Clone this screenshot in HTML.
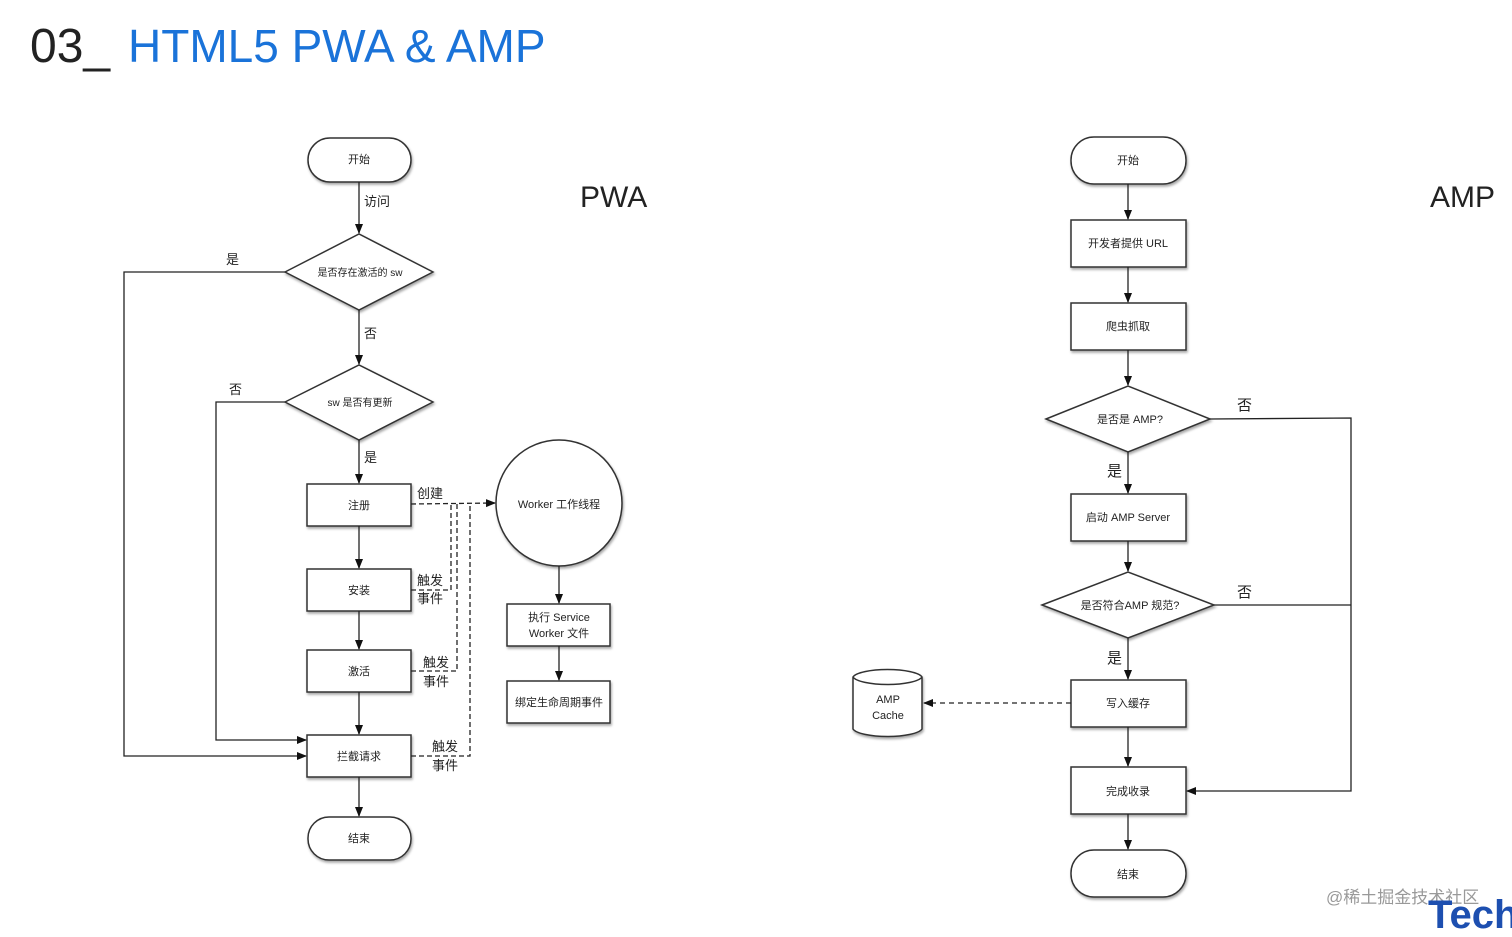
<!DOCTYPE html>
<html><head><meta charset="utf-8"><style>
body{margin:0;background:#fff;width:1512px;height:932px;overflow:hidden}
svg text{font-family:"Liberation Sans","Noto Sans CJK SC",sans-serif}
</style></head><body>
<svg width="1512" height="932" xmlns="http://www.w3.org/2000/svg">
<defs>
<marker id="a" markerWidth="10" markerHeight="10" refX="9" refY="5" orient="auto" markerUnits="userSpaceOnUse"><path d="M0,1 L10,5 L0,9z" fill="#111"/></marker>
<filter id="s"><feDropShadow dx="1" dy="2" stdDeviation="1.2" flood-opacity="0.35"/></filter>
</defs>
<text x="30" y="62" font-size="48" fill="#222">03_</text>
<text x="128" y="62" font-size="46" fill="#1a73d9">HTML5 PWA &amp; AMP</text>
<text x="580" y="207" font-size="30" fill="#222">PWA</text>
<text x="1430" y="207" font-size="30" fill="#222">AMP</text>
<g stroke="#333" stroke-width="1.5" fill="#fff" filter="url(#s)">
<rect x="308" y="138" width="103" height="44" rx="22"/>
<polygon points="285,272 359,234 433,272 359,310"/>
<polygon points="285,402 359,365 433,402 359,440"/>
<rect x="307" y="484" width="104" height="42"/>
<rect x="307" y="569" width="104" height="42"/>
<rect x="307" y="650" width="104" height="42"/>
<rect x="307" y="735" width="104" height="42"/>
<rect x="308" y="817" width="103" height="43" rx="21"/>
<circle cx="559" cy="503" r="63"/>
<rect x="507" y="604" width="103" height="42"/>
<rect x="507" y="681" width="103" height="42"/>
<rect x="1071" y="137" width="115" height="47" rx="23"/>
<rect x="1071" y="220" width="115" height="47"/>
<rect x="1071" y="303" width="115" height="47"/>
<polygon points="1046,419 1128,386 1210,419 1128,452"/>
<rect x="1071" y="494" width="115" height="47"/>
<polygon points="1042,605 1128,572 1214,605 1128,638"/>
<rect x="1071" y="680" width="115" height="47"/>
<rect x="1071" y="767" width="115" height="47"/>
<rect x="1071" y="850" width="115" height="47" rx="23"/>
<path d="M853,677 v52 a35,9 0 0 0 69,0 v-52 a35,9 0 0 0 -69,0 a35,9 0 0 0 69,0"/>
</g>
<g stroke="#222" stroke-width="1.3" fill="none" marker-end="url(#a)">
<line x1="359" y1="182" x2="359" y2="233"/>
<line x1="359" y1="310" x2="359" y2="364"/>
<line x1="359" y1="440" x2="359" y2="483"/>
<line x1="359" y1="526" x2="359" y2="568"/>
<line x1="359" y1="611" x2="359" y2="649"/>
<line x1="359" y1="692" x2="359" y2="734"/>
<line x1="359" y1="777" x2="359" y2="816"/>
<polyline points="285,272 124,272 124,756 306,756"/>
<polyline points="285,402 216,402 216,740 306,740"/>
<line x1="559" y1="566" x2="559" y2="603"/>
<line x1="559" y1="646" x2="559" y2="680"/>
<line x1="1128" y1="184" x2="1128" y2="219"/>
<line x1="1128" y1="267" x2="1128" y2="302"/>
<line x1="1128" y1="350" x2="1128" y2="385"/>
<line x1="1128" y1="452" x2="1128" y2="493"/>
<line x1="1128" y1="541" x2="1128" y2="571"/>
<line x1="1128" y1="638" x2="1128" y2="679"/>
<line x1="1128" y1="727" x2="1128" y2="766"/>
<line x1="1128" y1="814" x2="1128" y2="849"/>
<polyline points="1210,419 1351,418 1351,791 1187,791"/>
<polyline points="1214,605 1351,605" marker-end="none"/>
<line x1="1071" y1="703" x2="924" y2="703" stroke-dasharray="5,4"/>
<line x1="411" y1="504" x2="495" y2="503" stroke-dasharray="5,3"/>
</g>
<g stroke="#222" stroke-width="1.3" fill="none" stroke-dasharray="5,3">
<polyline points="411,590 451,590 451,504"/>
<polyline points="411,671 457,671 457,504"/>
<polyline points="411,756 470,756 470,504"/>
</g>
<g font-size="11" fill="#222" text-anchor="middle">
<text x="359" y="163">开始</text>
<text x="360" y="276" font-size="10">是否存在激活的 sw</text>
<text x="360" y="406" font-size="10">sw 是否有更新</text>
<text x="359" y="509">注册</text>
<text x="359" y="594">安装</text>
<text x="359" y="675">激活</text>
<text x="359" y="760">拦截请求</text>
<text x="359" y="842">结束</text>
<text x="559" y="508">Worker 工作线程</text>
<text x="559" y="621">执行 Service</text>
<text x="559" y="637">Worker 文件</text>
<text x="559" y="706">绑定生命周期事件</text>
<text x="1128" y="164">开始</text>
<text x="1128" y="247">开发者提供 URL</text>
<text x="1128" y="330">爬虫抓取</text>
<text x="1130" y="423">是否是 AMP?</text>
<text x="1128" y="521">启动 AMP Server</text>
<text x="1130" y="609">是否符合AMP 规范?</text>
<text x="1128" y="707">写入缓存</text>
<text x="1128" y="795">完成收录</text>
<text x="1128" y="878">结束</text>
<text x="888" y="703">AMP</text>
<text x="888" y="719">Cache</text>
</g>
<g font-size="13" fill="#222">
<text x="364" y="206">访问</text>
<text x="226" y="264">是</text>
<text x="364" y="338">否</text>
<text x="229" y="394">否</text>
<text x="364" y="462">是</text>
<text x="417" y="498">创建</text>
<text x="417" y="585">触发</text><text x="417" y="603">事件</text>
<text x="423" y="667">触发</text><text x="423" y="686">事件</text>
<text x="432" y="751">触发</text><text x="432" y="770">事件</text>
<text x="1237" y="410" font-size="15">否</text>
<text x="1107" y="476" font-size="15">是</text>
<text x="1237" y="597" font-size="15">否</text>
<text x="1107" y="663" font-size="15">是</text>
</g>
<text x="1326" y="903" font-size="17" fill="#999">@稀土掘金技术社区</text>
<text x="1428" y="928" font-size="40" font-weight="bold" fill="#1d4fb0">Tech</text>
</svg>
</body></html>
